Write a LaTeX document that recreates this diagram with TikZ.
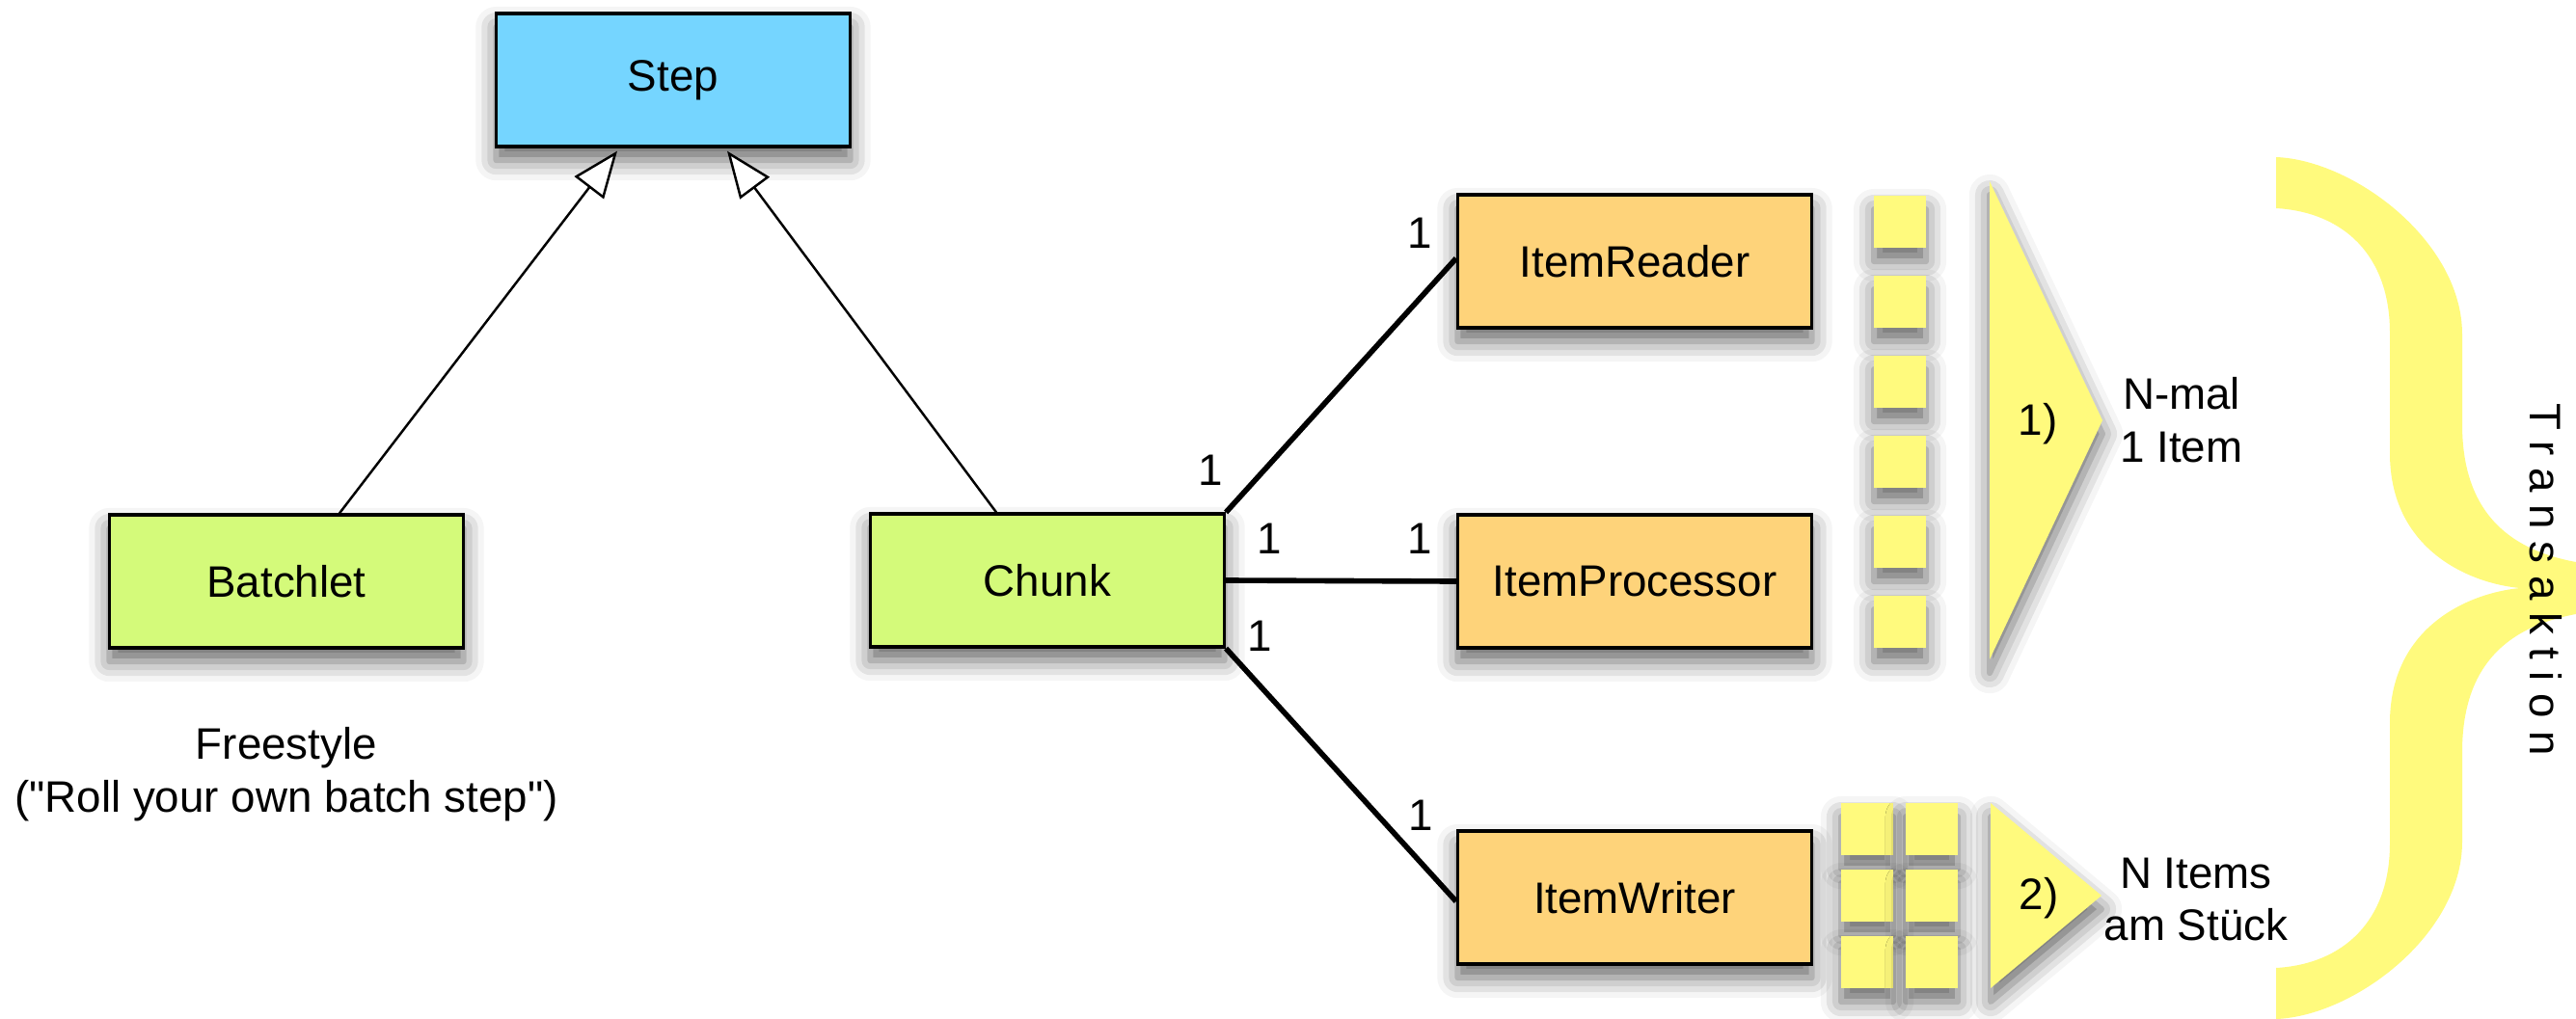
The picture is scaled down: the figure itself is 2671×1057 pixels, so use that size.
\documentclass[tikz,border=0pt]{standalone}
\usepackage{fontspec}
\setmainfont{Liberation Sans}[Ligatures=TeXOff]
\newfontfamily\spacedfont[LetterSpace=28]{Liberation Sans}
\usetikzlibrary{arrows.meta,shadows.blur,calc}
\definecolor{stepblue}{RGB}{117,213,255}
\definecolor{boxgreen}{RGB}{212,250,122}
\definecolor{boxorange}{RGB}{254,211,122}
\definecolor{itemyellow}{RGB}{255,250,125}
\begin{document}
\begin{tikzpicture}[x=0.01cm,y=-0.01cm,
  every node/.style={font=\fontsize{13}{15.6}\selectfont},
  softshadow/.style={blur shadow={shadow xshift=0pt,shadow yshift=-4pt,shadow blur radius=6pt,shadow opacity=60}},
  classbox/.style={draw=black,line width=0.9pt,minimum width=3.67cm,minimum height=1.38cm,inner sep=0pt,softshadow},
  itemsq/.style={fill=itemyellow,minimum size=0.54cm,inner sep=0pt,softshadow},
  lbl/.style={inner sep=0pt},
  inherit/.style={line width=0.7pt,-{Triangle[fill=white,length=0.48cm,width=0.38cm]}},
  assoc/.style={line width=1.6pt}
]
\useasboundingbox (0,0) rectangle (2671,1057);

% yellow brace
\fill[itemyellow] (2360,163) .. controls (2440,166) and (2553,250) .. (2553,347)
  -- (2553,440) .. controls (2553,530) and (2600,570) .. (2671,583)
  -- (2671,637) .. controls (2600,650) and (2553,690) .. (2553,780)
  -- (2553,873) .. controls (2553,970) and (2440,1054) .. (2360,1057)
  -- (2360,1004) .. controls (2430,1000) and (2478,955) .. (2478,875)
  -- (2478,750) .. controls (2478,650) and (2560,615) .. (2613,610)
  .. controls (2560,605) and (2478,570) .. (2478,470)
  -- (2478,345) .. controls (2478,265) and (2430,220) .. (2360,216) -- cycle;

% classes
\node[classbox,fill=stepblue] (step) at (698,83) {Step};
\node[classbox,fill=boxgreen] (batchlet) at (297,603) {Batchlet};
\node[classbox,fill=boxgreen] (chunk) at (1086,602) {Chunk};
\node[classbox,fill=boxorange] (reader) at (1695,271) {ItemReader};
\node[classbox,fill=boxorange] (proc) at (1695,603) {ItemProcessor};
\node[classbox,fill=boxorange] (writer) at (1695,931) {ItemWriter};

\node[align=center] (free) at (297,803) {Freestyle\\("Roll your own batch step")};

% item squares
\foreach \i/\yy in {1/230,2/313,3/396,4/479,5/562,6/645}
  \node[itemsq] (sqa\i) at (1970,\yy) {};
\foreach \i/\yy in {1/860,2/929,3/998}{
  \node[itemsq] (sqb\i) at (1936,\yy) {};
  \node[itemsq] (sqc\i) at (2003,\yy) {};
}

% triangles
\fill[itemyellow,softshadow] (2063,188) -- (2180,436) -- (2063,684) -- cycle;
\fill[itemyellow,softshadow] (2064,833) -- (2179,929) -- (2064,1025) -- cycle;
\node (one) at (2113,440) {1)};
\node (two) at (2114,932) {2)};
\node[align=center] (nmal) at (2262,436) {N-mal\\1 Item};
\node[align=center] (nitems) at (2277,933) {N Items\\am Stück};

\node[rotate=-90] (trans) at (2640,601) {\spacedfont Transaktion};

% connectors
\draw[inherit] ($(batchlet.north)+(55,0)$) -- ($(step.south)+(-58,3)$);
\draw[inherit] ($(chunk.north)+(-53,0)$) -- ($(step.south)+(56,3)$);
\draw[assoc] (chunk.north east) -- ($(reader.west)+(0,-3)$);
\draw[assoc] (chunk.east) -- (proc.west);
\draw[assoc] (chunk.south east) -- ($(writer.west)+(0,4)$);

% multiplicities
\node[lbl] (m1) at (1472,242) {1};
\node[lbl] (m2) at (1255,488) {1};
\node[lbl] (m3) at (1316,559) {1};
\node[lbl] (m4) at (1472,559) {1};
\node[lbl] (m5) at (1306,660) {1};
\node[lbl] (m6) at (1473,846) {1};
\end{tikzpicture}
\end{document}
